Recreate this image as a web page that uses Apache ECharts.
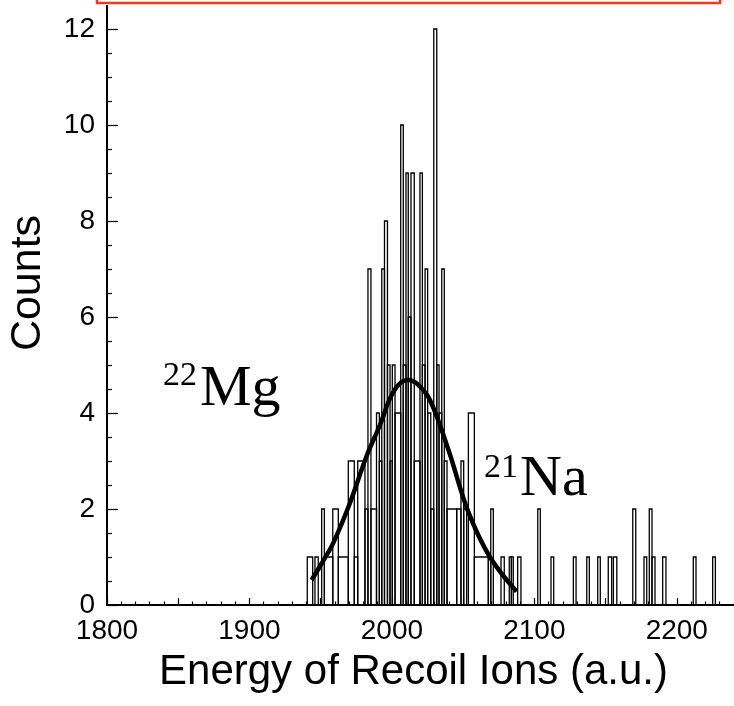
<!DOCTYPE html>
<html><head><meta charset="utf-8">
<script src="https://cdn.jsdelivr.net/npm/echarts@6/dist/echarts.min.js"></script>
<style>html,body{margin:0;padding:0;background:#fff}#c{width:734px;height:706px}</style>
</head><body><div id="c"></div>
<script>
// Histogram bins (energy, a.u.): lower edge, upper edge, counts
const binLo = [1940.6,1946.0,1950.7,1952.6,1958.5,1962.4,1969.4,1973.6,1976.0,1981.1,
  1983.2,1985.3,1989.2,1991.2,1992.9,1994.8,1996.9,1998.7,2000.3,2002.2,
  2006.2,2008.0,2009.9,2011.5,2013.4,2015.7,2019.7,2021.4,2023.3,2025.1,
  2027.3,2029.4,2031.5,2033.1,2035.0,2036.8,2038.7,2045.5,2048.5,2050.4,
  2053.7,2057.9,2067.7,2069.4,2076.6,2082.4,2083.9,2088.3,2102.4,2111.7,
  2127.4,2136.8,2144.5,2151.9,2155.5,2169.1,2177.0,2180.7,2182.6,2190.1,
  2211.6,2225.2];
const binHi = [1944.4,1948.3,1952.6,1958.5,1962.4,1969.4,1973.6,1976.0,1981.1,1983.2,
  1985.3,1989.2,1991.2,1992.9,1994.8,1996.9,1998.7,2000.3,2002.2,2006.2,
  2008.0,2009.9,2011.5,2013.4,2015.7,2019.7,2021.4,2023.3,2025.1,2027.3,
  2029.4,2031.5,2033.1,2035.0,2036.8,2038.7,2045.5,2048.5,2050.4,2052.5,
  2057.9,2067.7,2069.4,2071.2,2078.9,2083.9,2085.2,2090.6,2104.2,2113.6,
  2129.3,2138.6,2146.3,2154.3,2157.9,2171.2,2178.9,2182.6,2184.7,2192.4,
  2213.5,2227.1];
const binCount = [1,1,2,1,2,1,3,1,3,2,
  7,2,4,3,7,8,5,3,5,4,
  10,5,9,6,9,3,9,5,7,4,
  2,12,5,4,7,3,2,2,3,2,
  4,1,1,2,1,1,1,1,2,1,
  1,1,1,1,1,2,1,2,1,1,
  1,1];
// Gaussian fit curve
const fitEnergy = [1943.6,1951.0,1958.8,1970.5,1982.2,1991.6,1998.6,2005.0,2011.4,2018.0,2026.7,2039.5,2053.5,2068.8,2087.5];
const fitCounts = [0.52,0.88,1.29,2.12,3.10,3.75,4.30,4.60,4.69,4.60,4.27,3.25,1.95,1.00,0.28];
const xTickLabels = [1800,1900,2000,2100,2200];
const yTickLabels = [0,2,4,6,8,10,12];

const chart = echarts.init(document.getElementById('c'), null, {renderer:'canvas'});
const histData = binLo.map((lo,i)=>[lo, binHi[i], binCount[i]]);
const fitData = fitEnergy.map((e,i)=>[e, fitCounts[i]]);
const sans = '"Liberation Sans", Arial, Helvetica, sans-serif';
const serif = '"Liberation Serif", "Times New Roman", serif';

chart.setOption({
  animation:false,
  grid:{left:107,right:-14,top:29,bottom:101,containLabel:false,outerBoundsMode:'none'},
  xAxis:{
    type:'value',min:1800,max:2250,interval:50,
    name:'Energy of Recoil Ions (a.u.)',nameLocation:'middle',nameGap:46,
    nameTextStyle:{fontSize:42,fontFamily:sans,color:'#000',verticalAlign:'top',padding:[0,28,0,0]},
    axisLine:{show:true,onZero:false,lineStyle:{color:'#000',width:2}},
    axisTick:{show:true,inside:true,length:7,lineStyle:{color:'#000',width:1.2}},
    minorTick:{show:true,splitNumber:5,length:3.5,lineStyle:{color:'#000',width:1.2}},
    splitLine:{show:false},minorSplitLine:{show:false},
    axisLabel:{fontSize:28,fontFamily:sans,color:'#000',margin:12,
      formatter:v=>xTickLabels.indexOf(v)>=0?String(v):''}
  },
  yAxis:{
    type:'value',min:0,max:12,interval:2,
    name:'Counts',nameLocation:'middle',nameGap:57,nameRotate:90,
    nameTextStyle:{fontSize:43,fontFamily:sans,color:'#000',padding:[0,0,0,68]},
    axisLine:{show:true,lineStyle:{color:'#000',width:2}},
    axisTick:{show:true,inside:true,length:11,lineStyle:{color:'#000',width:1.2}},
    minorTick:{show:true,splitNumber:4,length:5,lineStyle:{color:'#000',width:1.2}},
    splitLine:{show:false},
    axisLabel:{fontSize:28,fontFamily:sans,color:'#000',margin:12,
      formatter:v=>yTickLabels.indexOf(v)>=0?String(v):''}
  },
  series:[
    {type:'custom',clip:false,
     encode:{x:[0,1],y:2},
     data:histData,
     renderItem:(params,api)=>{
       const p0 = api.coord([api.value(0), api.value(2)]);
       const p1 = api.coord([api.value(1), 0]);
       return {type:'rect',
         shape:{x:p0[0],y:p0[1],width:p1[0]-p0[0],height:p1[1]-p0[1]},
         style:{fill:'rgba(0,0,0,0)',stroke:'#000',lineWidth:1.3}};
     }},
    {type:'line',data:fitData,smooth:0.35,showSymbol:false,z:5,
     lineStyle:{color:'#000',width:4.5}}
  ],
  graphic:[
    {type:'rect',shape:{x:97,y:-10,width:623,height:13},
     style:{fill:'none',stroke:'#f5381c',lineWidth:2.5}},
    {type:'line',shape:{x1:107,y1:5,x2:107,y2:30},style:{stroke:'#000',lineWidth:2}},
    {type:'text',x:163,y:376,style:{text:'22',font:'34px '+serif,fill:'#000',align:'left',verticalAlign:'middle'}},
    {type:'text',x:200,y:390,style:{text:'Mg',font:'58px '+serif,fill:'#000',align:'left',verticalAlign:'middle'}},
    {type:'text',x:484,y:468,style:{text:'21',font:'34px '+serif,fill:'#000',align:'left',verticalAlign:'middle'}},
    {type:'text',x:520,y:480,style:{text:'Na',font:'58px '+serif,fill:'#000',align:'left',verticalAlign:'middle'}}
  ]
});
</script></body></html>
